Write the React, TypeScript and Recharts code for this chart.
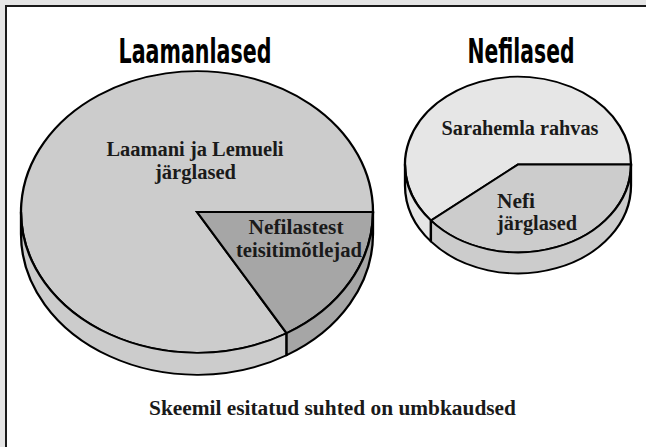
import { PieChart, Pie, Cell } from "recharts";

// approximate shares
const titles = ["Laamanlased", "Nefilased"];
const leftLabels = [["Laamani ja Lemueli", "järglased"], ["Nefilastest", "teisitimõtlejad"]];
const leftValues = [83.5, 16.5];
const rightLabels = [["Sarahemla rahvas"], ["Nefi", "järglased"]];
const rightValues = [61, 39];
const note = "Skeemil esitatud suhted on umbkaudsed";

const leftColors = ["#cccccc", "#a6a6a6"];
const rightColors = ["#e6e6e6", "#cccccc"];

const RAD = Math.PI / 180;
const STROKE = 2.3;

// draws the visible side of each slice (lower half only) below the top face
function sideBand(depth: number, colors: string[]) {
  return (p: any) => {
    const { cx, cy, outerRadius: r, startAngle, endAngle, index } = p;
    const lo = Math.max(Math.min(startAngle, endAngle), 180);
    const hi = Math.min(Math.max(startAngle, endAngle), 360);
    if (hi <= lo) return <g key={`side-${index}`} />;
    const pt = (a: number, dy: number) =>
      `${cx + r * Math.cos(a * RAD)},${cy - r * Math.sin(a * RAD) + dy}`;
    const d =
      `M${pt(lo, 0)} A${r},${r} 0 0 0 ${pt(hi, 0)} ` +
      `L${pt(hi, depth)} A${r},${r} 0 0 1 ${pt(lo, depth)} Z`;
    return (
      <path
        key={`side-${index}`}
        d={d}
        fill={colors[index]}
        stroke="#000"
        strokeWidth={STROKE}
        strokeLinejoin="round"
      />
    );
  };
}

interface DiskProps {
  names: string[][];
  values: number[];
  colors: string[];
  cx: number;
  cy: number; // on screen
  r: number;
  k: number; // vertical squash
  depth: number; // on screen
}

function Disk({ names, values, colors, cx, cy, r, k, depth }: DiskProps) {
  const data = values.map((v, i) => ({ name: names[i].join(" "), value: v }));
  const h = Math.ceil((cy + depth) / k + r + 10);
  return (
    <div
      style={{
        position: "absolute",
        left: 0,
        top: 0,
        transform: `scaleY(${k})`,
        transformOrigin: "0 0",
      }}
    >
      <PieChart width={646} height={h} margin={{ top: 0, right: 0, bottom: 0, left: 0 }}>
        <Pie
          data={data}
          dataKey="value"
          cx={cx}
          cy={cy / k}
          outerRadius={r}
          startAngle={0}
          endAngle={360}
          stroke="#000"
          strokeWidth={STROKE}
          label={sideBand(depth / k, colors)}
          labelLine={false}
          isAnimationActive={false}
        >
          {data.map((d, i) => (
            <Cell key={d.name} fill={colors[i]} />
          ))}
        </Pie>
      </PieChart>
    </div>
  );
}

const serif = "'Liberation Serif', 'DejaVu Serif', serif";
const narrow = "'Liberation Sans Narrow', 'DejaVu Sans Condensed', 'Arial Narrow', sans-serif";

export default function App() {
  return (
    <div
      style={{
        position: "absolute",
        left: 0,
        top: 0,
        width: 646,
        height: 447,
        overflow: "hidden",
        background: "#e5e5e5",
      }}
    >
      <div
        style={{
          position: "absolute",
          left: 5,
          top: 5,
          width: 660,
          height: 460,
          background: "#fff",
          borderLeft: "2px solid #1a1a1a",
          borderTop: "2px solid #1a1a1a",
        }}
      />
      <Disk names={leftLabels} values={leftValues} colors={leftColors} cx={197} cy={212} r={176} k={0.8} depth={22} />
      <Disk names={rightLabels} values={rightValues} colors={rightColors} cx={518} cy={164.5} r={113} k={0.778} depth={21} />
      <svg
        width={646}
        height={447}
        style={{ position: "absolute", left: 0, top: 0, pointerEvents: "none" }}
      >
        <g fontFamily={narrow} fontWeight="bold" fontSize={33} textAnchor="middle" fill="#000">
          <text x={195} y={62.5} textLength={153} lengthAdjust="spacingAndGlyphs">{titles[0]}</text>
          <text x={521} y={62.5} textLength={107} lengthAdjust="spacingAndGlyphs">{titles[1]}</text>
        </g>
        <g fontFamily={serif} fontWeight="bold" fontSize={20} fill="#1a1a1a">
          <text x={195} y={156} textAnchor="middle" textLength={177} lengthAdjust="spacingAndGlyphs">{leftLabels[0][0]}</text>
          <text x={195.5} y={178.5} textAnchor="middle" textLength={81} lengthAdjust="spacingAndGlyphs">{leftLabels[0][1]}</text>
          <text x={296} y={233.5} textAnchor="middle" textLength={95} lengthAdjust="spacingAndGlyphs">{leftLabels[1][0]}</text>
          <text x={299} y={256.5} textAnchor="middle" textLength={126} lengthAdjust="spacingAndGlyphs">{leftLabels[1][1]}</text>
          <text x={520} y={135} textAnchor="middle" textLength={157} lengthAdjust="spacingAndGlyphs">{rightLabels[0][0]}</text>
          <text x={497} y={207.5} textLength={38} lengthAdjust="spacingAndGlyphs">{rightLabels[1][0]}</text>
          <text x={497} y={230} textLength={80} lengthAdjust="spacingAndGlyphs">{rightLabels[1][1]}</text>
          <text x={332.5} y={415} textAnchor="middle" textLength={367} lengthAdjust="spacingAndGlyphs">{note}</text>
        </g>
      </svg>
    </div>
  );
}
